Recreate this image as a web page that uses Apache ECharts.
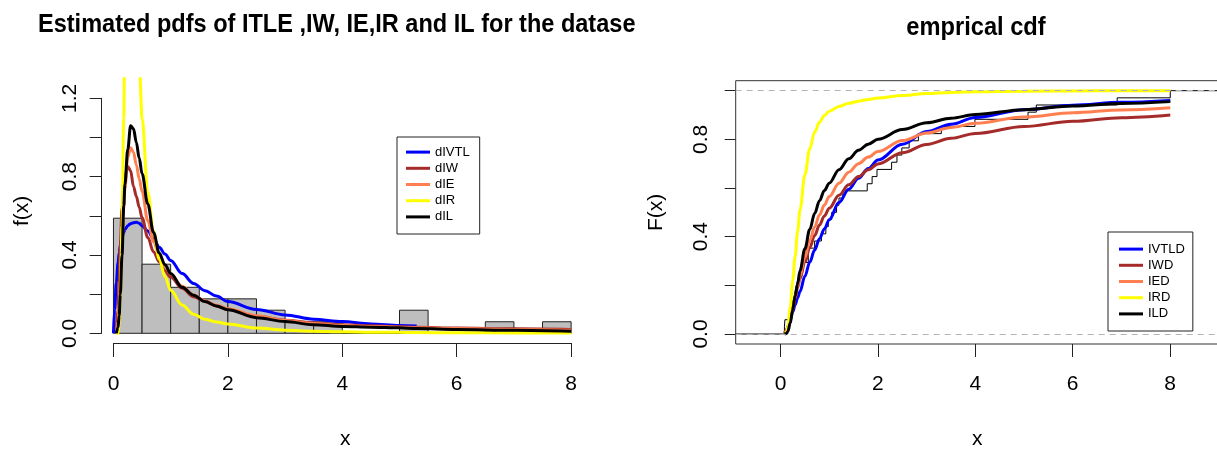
<!DOCTYPE html>
<html>
<head>
<meta charset="utf-8">
<script src="https://cdn.jsdelivr.net/npm/echarts@6/dist/echarts.min.js"></script>
<style>
  html, body { margin: 0; padding: 0; background: #fff; }
  #chart { width: 1217px; height: 449px; }
</style>
</head>
<body>
<div id="chart"></div>
<script>
  // histogram of the data set (bin edges and densities)
  const histBreaks = [0, 0.5, 1, 1.5, 2, 2.5, 3, 3.5, 4, 4.5, 5, 5.5, 6, 6.5, 7, 7.5, 8];
  const histDensity = [0.588, 0.353, 0.235, 0.176, 0.176, 0.118, 0.059, 0.059, 0, 0, 0.118, 0, 0, 0.059, 0, 0.059];

  // fitted pdfs (left panel)
  const pdfX    = [0, 0.02, 0.05, 0.08, 0.1, 0.12, 0.15, 0.18, 0.2, 0.25, 0.3, 0.35, 0.4, 0.45, 0.5, 0.6, 0.7, 0.8, 0.9, 1.0, 1.2, 1.4, 1.6, 1.8, 2.0, 2.5, 3.0, 3.5, 4.0, 4.5, 5.0, 5.3, 6.0, 7.0, 8.0];
  const pdfIVTL = [0, 0.12, 0.26, 0.36, 0.41, 0.45, 0.49, 0.515, 0.53, 0.55, 0.56, 0.565, 0.567, 0.562, 0.55, 0.522, 0.485, 0.44, 0.405, 0.372, 0.305, 0.255, 0.218, 0.19, 0.162, 0.122, 0.094, 0.072, 0.06, 0.048, 0.04, 0.037, null, null, null];
  const pdfIW   = [null, null, 0.02, 0.12, 0.28, 0.45, 0.64, 0.75, 0.8, 0.852, 0.83, 0.75, 0.7, 0.645, 0.59, 0.49, 0.417, 0.365, 0.32, 0.287, 0.23, 0.187, 0.163, 0.14, 0.122, 0.087, 0.067, 0.053, 0.044, 0.038, 0.033, 0.031, 0.027, 0.023, 0.02];
  const pdfIE   = [null, null, 0, 0.06, 0.15, 0.27, 0.45, 0.64, 0.74, 0.9, 0.948, 0.925, 0.86, 0.79, 0.725, 0.575, 0.468, 0.4, 0.345, 0.303, 0.24, 0.196, 0.165, 0.143, 0.126, 0.09, 0.065, 0.05, 0.04, 0.035, 0.031, 0.028, 0.024, 0.02, 0.016];
  const pdfIR   = [null, null, 0, 0, 0.05, 0.2, 0.55, 1.1, 1.6, 2.3, 2.4, 2.15, 1.82, 1.4, 1.1, 0.72, 0.52, 0.38, 0.29, 0.22, 0.145, 0.097, 0.072, 0.058, 0.048, 0.027, 0.016, 0.011, 0.008, 0.006, 0.005, 0.004, 0.003, 0.002, 0.001];
  const pdfIL   = [null, null, 0, 0.03, 0.09, 0.2, 0.4, 0.65, 0.76, 0.94, 1.06, 1.045, 0.975, 0.895, 0.815, 0.66, 0.515, 0.41, 0.35, 0.305, 0.235, 0.195, 0.162, 0.14, 0.12, 0.08, 0.06, 0.044, 0.035, 0.031, 0.028, 0.024, 0.019, 0.015, 0.01];

  // observed sample (right panel, empirical cdf)
  const obs = [0.08, 0.09, 0.2, 0.23, 0.27, 0.3, 0.33, 0.37, 0.42, 0.46, 0.57, 0.58, 0.7, 0.84, 0.93, 0.98, 1.05, 1.15, 1.2, 1.28, 1.78, 1.88, 1.98, 2.28, 2.39, 2.49, 2.64, 2.83, 3.3, 3.99, 5.08, 5.25, 6.91, 8.0];

  // fitted cdfs (right panel)
  const cdfX    = [0.08, 0.12, 0.15, 0.2, 0.25, 0.3, 0.35, 0.4, 0.5, 0.6, 0.7, 0.8, 0.9, 1.0, 1.2, 1.4, 1.6, 1.8, 2.0, 2.5, 3.0, 3.5, 4.0, 5.0, 6.0, 7.0, 8.0];
  const cdfIVTL = [0, 0.012, 0.03, 0.06, 0.09, 0.12, 0.148, 0.175, 0.237, 0.295, 0.345, 0.392, 0.432, 0.47, 0.54, 0.595, 0.64, 0.68, 0.715, 0.78, 0.832, 0.862, 0.89, 0.922, 0.94, 0.952, 0.96];
  const cdfIW   = [0.002, 0.015, 0.03, 0.065, 0.105, 0.147, 0.19, 0.227, 0.296, 0.355, 0.405, 0.448, 0.485, 0.517, 0.57, 0.613, 0.647, 0.675, 0.699, 0.745, 0.779, 0.804, 0.824, 0.853, 0.874, 0.889, 0.9];
  const cdfIE   = [0, 0.01, 0.025, 0.057, 0.1, 0.15, 0.195, 0.24, 0.315, 0.385, 0.44, 0.49, 0.53, 0.565, 0.62, 0.665, 0.7, 0.727, 0.75, 0.795, 0.826, 0.849, 0.866, 0.892, 0.909, 0.921, 0.93];
  const cdfIR   = [0, 0.005, 0.03, 0.11, 0.22, 0.32, 0.42, 0.51, 0.655, 0.76, 0.83, 0.87, 0.898, 0.915, 0.935, 0.948, 0.957, 0.964, 0.97, 0.98, 0.988, 0.993, 0.996, 0.998, 0.999, 1.0, 1.0];
  const cdfIL   = [0, 0.002, 0.01, 0.045, 0.1, 0.155, 0.205, 0.26, 0.35, 0.43, 0.495, 0.548, 0.59, 0.62, 0.675, 0.72, 0.755, 0.78, 0.8, 0.84, 0.868, 0.887, 0.902, 0.922, 0.937, 0.947, 0.955];

  const pdfNames = ['dIVTL', 'dIW', 'dIE', 'dIR', 'dIL'];
  const cdfNames = ['IVTLD', 'IWD', 'IED', 'IRD', 'ILD'];
  const colors = ['#0000ff', '#a52a2a', '#ff7f50', '#ffff00', '#000000'];

  const sans = '"Liberation Sans", Arial, sans-serif';

  function pairs(xs, ys) {
    const out = [];
    xs.forEach((x, i) => { if (ys[i] != null) out.push([x, ys[i]]); });
    return out;
  }

  // histogram rows: [from, to, density]
  const histData = histDensity.map((d, i) => [histBreaks[i], histBreaks[i + 1], d]);

  // ecdf steps
  const ecdfData = [[-0.92, 0]];
  obs.forEach((x, i) => ecdfData.push([x, (i + 1) / obs.length]));
  ecdfData.push([9.0, 1]);

  const hidden = { show: false };
  const tickLabel = { fontFamily: sans, fontSize: 21, color: '#000' };
  const nameStyle = { fontFamily: sans, fontSize: 21, color: '#000' };

  function lineSeries(name, color, xi, yi, data) {
    return {
      name: name, type: 'line', xAxisIndex: xi, yAxisIndex: yi,
      data: data, showSymbol: false, symbol: 'none',
      smooth: 0.35, smoothMonotone: 'x',
      color: color, lineStyle: { color: color, width: 3 },
      z: 3
    };
  }

  const pdfSets = [pdfIVTL, pdfIW, pdfIE, pdfIR, pdfIL];
  const cdfSets = [cdfIVTL, cdfIW, cdfIE, cdfIR, cdfIL];

  const g = (o) => Object.assign({ outerBoundsMode: 'none', containLabel: false }, o);

  const option = {
    animation: false,
    backgroundColor: '#fff',
    grid: [
      g({ left: 101.1, top: 78.8, width: 488.1, height: 264.3 }),
      g({ left: 113.5, top: 342, width: 457.6, height: 1 }),
      g({ left: 101.7, top: 98.3, width: 1, height: 235 }),
      g({ left: 735.7, top: 80.7, width: 483.3, height: 263.3, show: true, borderColor: '#333', borderWidth: 1 }),
      g({ left: 780.5, top: 343, width: 389.6, height: 1 }),
      g({ left: 735.7, top: 90.7, width: 1, height: 243.3 })
    ],
    xAxis: [
      { gridIndex: 0, type: 'value', min: -0.216, max: 8.316,
        axisLine: hidden, axisTick: hidden, axisLabel: hidden, splitLine: hidden,
        name: 'x', nameLocation: 'middle', nameGap: 86, nameTextStyle: nameStyle },
      { gridIndex: 1, type: 'value', min: 0, max: 8, interval: 2,
        axisLine: { lineStyle: { color: '#222', width: 1 } },
        axisTick: { length: 14, lineStyle: { color: '#222' } },
        axisLabel: Object.assign({ margin: 31 }, tickLabel), splitLine: hidden },
      { gridIndex: 2, type: 'value', show: false, min: 0, max: 1 },
      { gridIndex: 3, type: 'value', min: -0.92, max: 9.0,
        axisLine: hidden, axisTick: hidden, axisLabel: hidden, splitLine: hidden,
        name: 'x', nameLocation: 'middle', nameGap: 85, nameTextStyle: nameStyle },
      { gridIndex: 4, type: 'value', min: 0, max: 8, interval: 2,
        axisLine: hidden,
        axisTick: { length: 13, lineStyle: { color: '#222' } },
        axisLabel: Object.assign({ margin: 30 }, tickLabel), splitLine: hidden },
      { gridIndex: 5, type: 'value', show: false, min: 0, max: 1 }
    ],
    yAxis: [
      { gridIndex: 0, type: 'value', min: -0.05, max: 1.30,
        axisLine: hidden, axisTick: hidden, axisLabel: hidden, splitLine: hidden,
        name: 'f(x)', nameLocation: 'middle', nameGap: 68, nameRotate: 90, nameTextStyle: nameStyle },
      { gridIndex: 1, type: 'value', show: false, min: 0, max: 1 },
      { gridIndex: 2, type: 'value', min: 0, max: 1.2, interval: 0.2,
        axisLine: { lineStyle: { color: '#222', width: 1 } },
        axisTick: { length: 12, lineStyle: { color: '#222' } },
        axisLabel: Object.assign({ margin: 21, rotate: 90,
          formatter: v => ([0, 0.4, 0.8, 1.2].some(t => Math.abs(t - v) < 1e-6) ? v.toFixed(1) : '') }, tickLabel),
        splitLine: hidden },
      { gridIndex: 3, type: 'value', min: -0.041, max: 1.041,
        axisLine: hidden, axisTick: hidden, axisLabel: hidden, splitLine: hidden,
        name: 'F(x)', nameLocation: 'middle', nameGap: 69, nameRotate: 90, nameTextStyle: nameStyle },
      { gridIndex: 4, type: 'value', show: false, min: 0, max: 1 },
      { gridIndex: 5, type: 'value', min: 0, max: 1, interval: 0.2,
        axisLine: hidden,
        axisTick: { length: 11, lineStyle: { color: '#222' } },
        axisLabel: Object.assign({ margin: 24, rotate: 90,
          formatter: v => ([0, 0.4, 0.8].some(t => Math.abs(t - v) < 1e-6) ? v.toFixed(1) : '') }, tickLabel),
        splitLine: hidden }
    ],
    legend: [
      { data: pdfNames, orient: 'vertical', left: 397, top: 137,
        icon: 'rect', itemWidth: 24, itemHeight: 3, itemGap: 0,
        padding: [7, 10, 9, 9], borderColor: '#222', borderWidth: 1, selectedMode: false,
        textStyle: { fontFamily: sans, fontSize: 13, color: '#000', lineHeight: 16.2 } },
      { data: cdfNames, orient: 'vertical', left: 1108, top: 232,
        icon: 'rect', itemWidth: 24, itemHeight: 3, itemGap: 0,
        padding: [9, 8, 9, 11], borderColor: '#222', borderWidth: 1, selectedMode: false,
        textStyle: { fontFamily: sans, fontSize: 13, color: '#000', lineHeight: 16.2 } }
    ],
    graphic: [
      { type: 'text', x: 38, y: 25, scaleX: 0.905,
        style: { text: 'Estimated pdfs of ITLE ,IW, IE,IR and IL for the datase',
          fontFamily: sans, fontSize: 26, fontWeight: 'bold', fill: '#000',
          align: 'left', verticalAlign: 'middle' } },
      { type: 'text', x: 976, y: 28, scaleX: 0.91,
        style: { text: 'emprical cdf',
          fontFamily: sans, fontSize: 26, fontWeight: 'bold', fill: '#000',
          align: 'center', verticalAlign: 'middle' } }
    ],
    series: [
      {
        name: 'hist', type: 'custom', xAxisIndex: 0, yAxisIndex: 0,
        data: histData, encode: { x: [0, 1], y: 2 }, z: 2,
        renderItem: (params, api) => {
          const p0 = api.coord([api.value(0), api.value(2)]);
          const p1 = api.coord([api.value(1), 0]);
          return {
            type: 'rect',
            shape: { x: p0[0], y: p0[1], width: p1[0] - p0[0], height: p1[1] - p0[1] },
            style: { fill: '#bebebe', stroke: '#222', lineWidth: 1 }
          };
        }
      },
      ...pdfNames.map((n, i) => lineSeries(n, colors[i], 0, 0, pairs(pdfX, pdfSets[i]))),
      {
        name: 'ecdf', type: 'line', xAxisIndex: 3, yAxisIndex: 3,
        data: ecdfData, step: 'end', showSymbol: false, symbol: 'none',
        lineStyle: { color: '#000', width: 1 }, z: 2,
        markLine: {
          silent: true, symbol: ['none', 'none'], label: { show: false },
          lineStyle: { color: '#b3b3b3', type: [6, 5], width: 1 },
          data: [{ yAxis: 0 }, { yAxis: 1 }]
        }
      },
      ...cdfNames.map((n, i) => lineSeries(n, colors[i], 3, 3, pairs(cdfX, cdfSets[i])))
    ]
  };

  const chart = echarts.init(document.getElementById('chart'), null, { renderer: 'canvas' });
  chart.setOption(option);
</script>
</body>
</html>
